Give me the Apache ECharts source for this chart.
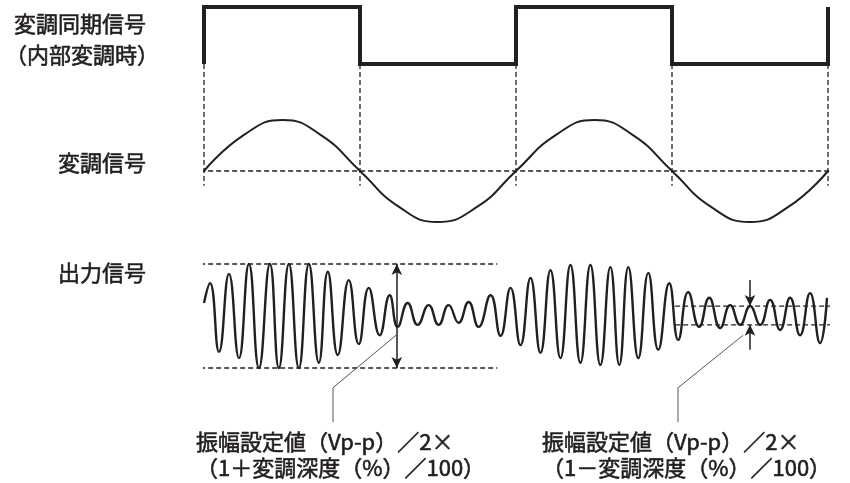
<!DOCTYPE html>
<html><head><meta charset="utf-8">
<script src="https://cdn.jsdelivr.net/npm/echarts@6/dist/echarts.min.js"></script>
<style>html,body{margin:0;padding:0;background:#fff}#c{width:850px;height:483px}</style>
</head><body><div id="c"></div>
<script>
// ---- data (time axis: 0..100 = two modulation periods) ----
const syncEdges = [0, 25, 50, 75, 100];
const syncLevels = [1, 0, 1, 0, 1];          // level right after each edge
const modT = [0, 6.3, 12.6, 18.8, 25, 31.2, 37.4, 43.8, 50, 56.3, 62.6, 68.8, 75, 81.2, 87.5, 93.7, 100];
const modV = [0, 0.7, 1, 0.7, 0, -0.7, -1, -0.7, 0, 0.7, 1, 0.7, 0, -0.7, -1, -0.7, 0];
const outT = [0,0.96,2.4,4.0,5.6,7.2,8.8,10.56,12.0,13.6,15.2,16.8,18.4,19.84,21.44,23.2,24.8,26.4,28.16,29.76,
  31.04,32.64,34.24,36.0,37.6,39.2,40.8,42.4,44.0,45.92,47.52,49.12,50.72,52.32,53.92,55.52,57.12,58.72,60.32,61.92,
  63.52,65.12,66.56,68.0,69.6,71.2,72.8,74.56,76.0,77.6,79.36,80.96,82.72,84.32,85.92,87.52,89.12,90.72,92.32,93.92,
  95.52,97.12,98.72,99.84];
const outV = [0.25,0.63,-0.69,0.81,-0.81,1,-1,1,-1,1,-1,1,-0.9,0.85,-0.75,0.69,-0.54,0.54,-0.37,0.4,
  -0.21,0.25,-0.17,0.21,-0.17,0.21,-0.13,0.27,-0.21,0.4,-0.38,0.54,-0.56,0.73,-0.71,0.88,-0.81,0.98,-0.9,0.98,
  -0.94,0.94,-0.94,0.94,-0.81,0.83,-0.65,0.63,-0.46,0.46,-0.21,0.35,-0.23,0.21,-0.17,0.19,-0.17,0.31,-0.27,0.35,
  -0.37,0.44,-0.52,0.35];
const maxLevel = 1;          // 1 + depth  (normalised)
const minLevelHi = 0.19, minLevelLo = -0.17;   // 1 - depth band
const arrow1T = 30.9, arrow2T = 87.5;
const leader1 = [[30.77, -0.37], [20.67, -1.38], [20.67, -2.04]];
const leader2 = [[86.4, -0.37], [75.96, -1.38], [75.96, -2.04]];
const labelsLeft = ['変調同期信号', '（内部変調時）', '変調信号', '出力信号'];
const noteLine1 = '振幅設定値（Vp-p）／2×';
const noteLeft2 = '（1＋変調深度（%）／100）';
const noteRight2 = '（1－変調深度（%）／100）';

// ---- build ----
const ink = '#231f20';
const syncData = [];
syncEdges.forEach((t, i) => {
  const prev = i === 0 ? 0 : syncLevels[i - 1];
  syncData.push([t, prev]);
  if (i < syncEdges.length - 1) syncData.push([t, syncLevels[i]]);
});
syncData.push([100, 1]);
const modData = modT.map((t, i) => [t, modV[i]]);
const outData = outT.map((t, i) => [t, outV[i]]);

const dash = { color: '#222', width: 1.3, type: [5, 3] };
const xAx = i => ({ gridIndex: i, type: 'value', min: 0, max: 100, show: false });
const yAx = (i, mn, mx) => ({ gridIndex: i, type: 'value', min: mn, max: mx, show: false });

const vDash = syncEdges.map(t => ({
  type: 'line', xAxisIndex: 1, yAxisIndex: 1, clip: false, silent: true, symbol: 'none',
  lineStyle: dash, data: [[t, 2.1], [t, -0.29]]
}));

const font = (w, s) => `${w} ${s}px "Noto Sans CJK JP"`;
const txt = (text, x, y, align, size) => ({
  type: 'text', x: x, y: y, silent: true,
  style: { text: text, fill: ink, stroke: ink, lineWidth: 0.6, font: font('normal', size),
    textAlign: align, textVerticalAlign: 'middle' }
});

const chart = echarts.init(document.getElementById('c'), null, { renderer: 'canvas' });
chart.setOption({
  animation: false,
  grid: [
    { left: 204, right: 22, top: 7, height: 57 },
    { left: 204, right: 22, top: 120, height: 102 },
    { left: 204, right: 22, top: 264, height: 104 }
  ],
  xAxis: [xAx(0), xAx(1), xAx(2)],
  yAxis: [yAx(0, 0, 1), yAx(1, -1, 1), yAx(2, -1, 1)],
  series: [
    { type: 'line', xAxisIndex: 0, yAxisIndex: 0, clip: false, symbol: 'none',
      lineStyle: { color: ink, width: 4, join: 'miter', cap: 'butt' }, data: syncData },
    ...vDash,
    { type: 'line', xAxisIndex: 1, yAxisIndex: 1, clip: false, symbol: 'none',
      lineStyle: dash, data: [[-1.9, 0], [102.4, 0]] },
    { type: 'line', xAxisIndex: 1, yAxisIndex: 1, clip: false, symbol: 'none', smooth: 0.5,
      lineStyle: { color: ink, width: 2 }, data: modData },
    // output guide lines
    { type: 'line', xAxisIndex: 2, yAxisIndex: 2, clip: false, symbol: 'none',
      lineStyle: dash, data: [[-1.9, maxLevel], [47, maxLevel]] },
    { type: 'line', xAxisIndex: 2, yAxisIndex: 2, clip: false, symbol: 'none',
      lineStyle: dash, data: [[-1.9, -maxLevel], [47, -maxLevel]] },
    { type: 'line', xAxisIndex: 2, yAxisIndex: 2, clip: false, symbol: 'none',
      lineStyle: dash, data: [[75.5, minLevelHi], [103.2, minLevelHi]] },
    { type: 'line', xAxisIndex: 2, yAxisIndex: 2, clip: false, symbol: 'none',
      lineStyle: dash, data: [[75.5, minLevelLo], [103.2, minLevelLo]] },
    { type: 'line', xAxisIndex: 2, yAxisIndex: 2, clip: false, symbol: 'none', smooth: 0.5,
      lineStyle: { color: ink, width: 2.4 }, data: outData },
    // leaders
    { type: 'line', xAxisIndex: 2, yAxisIndex: 2, clip: false, symbol: 'none',
      lineStyle: { color: '#555', width: 1 }, data: leader1 },
    { type: 'line', xAxisIndex: 2, yAxisIndex: 2, clip: false, symbol: 'none',
      lineStyle: { color: '#555', width: 1 }, data: leader2 },
    // arrows
    { type: 'line', xAxisIndex: 2, yAxisIndex: 2, data: [],
      markLine: { silent: true, animation: false, label: { show: false },
        lineStyle: { color: ink, width: 1.5, type: 'solid' }, symbolSize: [8, 11],
        data: [
          [{ coord: [arrow1T, maxLevel], symbol: 'arrow' }, { coord: [arrow1T, -maxLevel], symbol: 'arrow' }],
          [{ coord: [arrow2T, 0.69], symbol: 'none' }, { coord: [arrow2T, minLevelHi], symbol: 'arrow' }],
          [{ coord: [arrow2T, -0.65], symbol: 'none' }, { coord: [arrow2T, minLevelLo], symbol: 'arrow' }]
        ] } }
  ],
  graphic: [
    txt(labelsLeft[0], 80, 24, 'center', 22),
    txt(labelsLeft[1], 82, 55, 'center', 22),
    txt(labelsLeft[2], 146, 163, 'right', 22),
    txt(labelsLeft[3], 146, 273, 'right', 22),
    txt(noteLine1, 196, 442, 'left', 22),
    txt(noteLeft2, 196, 468, 'left', 22),
    txt(noteLine1, 542, 442, 'left', 22),
    txt(noteRight2, 542, 468, 'left', 22)
  ]
});
</script></body></html>
